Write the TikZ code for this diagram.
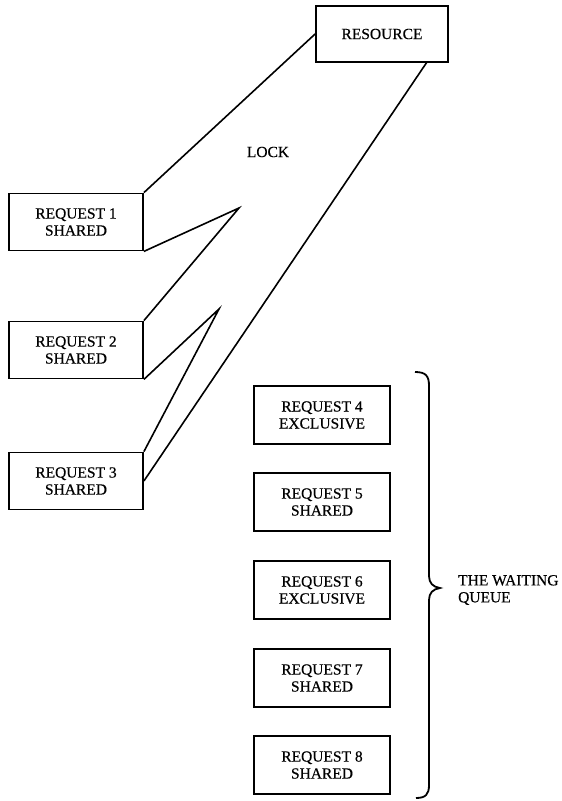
\documentclass[tikz,border=0pt]{standalone}
\usepackage{fontspec}
\setmainfont{Liberation Serif}[FakeBold=0.4]
\usetikzlibrary{decorations.pathreplacing}
\tikzset{
  box/.style={draw, line width=1.8pt, minimum width=134pt, minimum height=57pt, align=center, inner sep=0pt, font=\fontsize{15.5}{17}\selectfont},
  qbox/.style={box, minimum width=136pt, minimum height=58pt},
  lbl/.style={font=\fontsize{15.5}{17}\selectfont, inner sep=0pt},
  link/.style={line width=1.6pt, line join=miter},
}
\begin{document}
\begin{tikzpicture}[x=1pt, y=-1pt]
\useasboundingbox (0,0) rectangle (562,801);
\node[box, minimum width=132pt, minimum height=56pt] (res) at (382,34) {RESOURCE};
\node[lbl] (lock) at (268,152) {LOCK};
\node[box] (r1) at (76,222) {REQUEST 1\\SHARED};
\node[box] (r2) at (76,350) {REQUEST 2\\SHARED};
\node[box] (r3) at (76,481) {REQUEST 3\\SHARED};
\node[qbox] (r4) at (322,415) {REQUEST 4\\EXCLUSIVE};
\node[qbox] (r5) at (322,502) {REQUEST 5\\SHARED};
\node[qbox] (r6) at (322,590) {REQUEST 6\\EXCLUSIVE};
\node[qbox] (r7) at (322,678) {REQUEST 7\\SHARED};
\node[qbox] (r8) at (322,765) {REQUEST 8\\SHARED};
\coordinate (a1) at (239,208);
\coordinate (a2) at (219,309);
\coordinate (resb) at (427,62);
\draw[link] (res.west) -- (r1.north east);
\draw[link] (r1.south east) -- (a1) -- (r2.north east);
\draw[link] (r2.south east) -- (a2) -- (r3.north east);
\draw[link] (r3.east) -- (resb);
% brace
\draw[line width=1.8pt, line join=miter]
  (415,372) .. controls (426,372) and (429,376) .. (429,386)
  -- (429,576) .. controls (429,583) and (433,587) .. (440,588)
  .. controls (433,589) and (429,593) .. (429,600)
  -- (429,785) .. controls (429,794) and (426,798) .. (416,798);
\node[lbl, anchor=west, align=left] (wq) at (458,590) {THE WAITING\\QUEUE};
\end{tikzpicture}
\end{document}
